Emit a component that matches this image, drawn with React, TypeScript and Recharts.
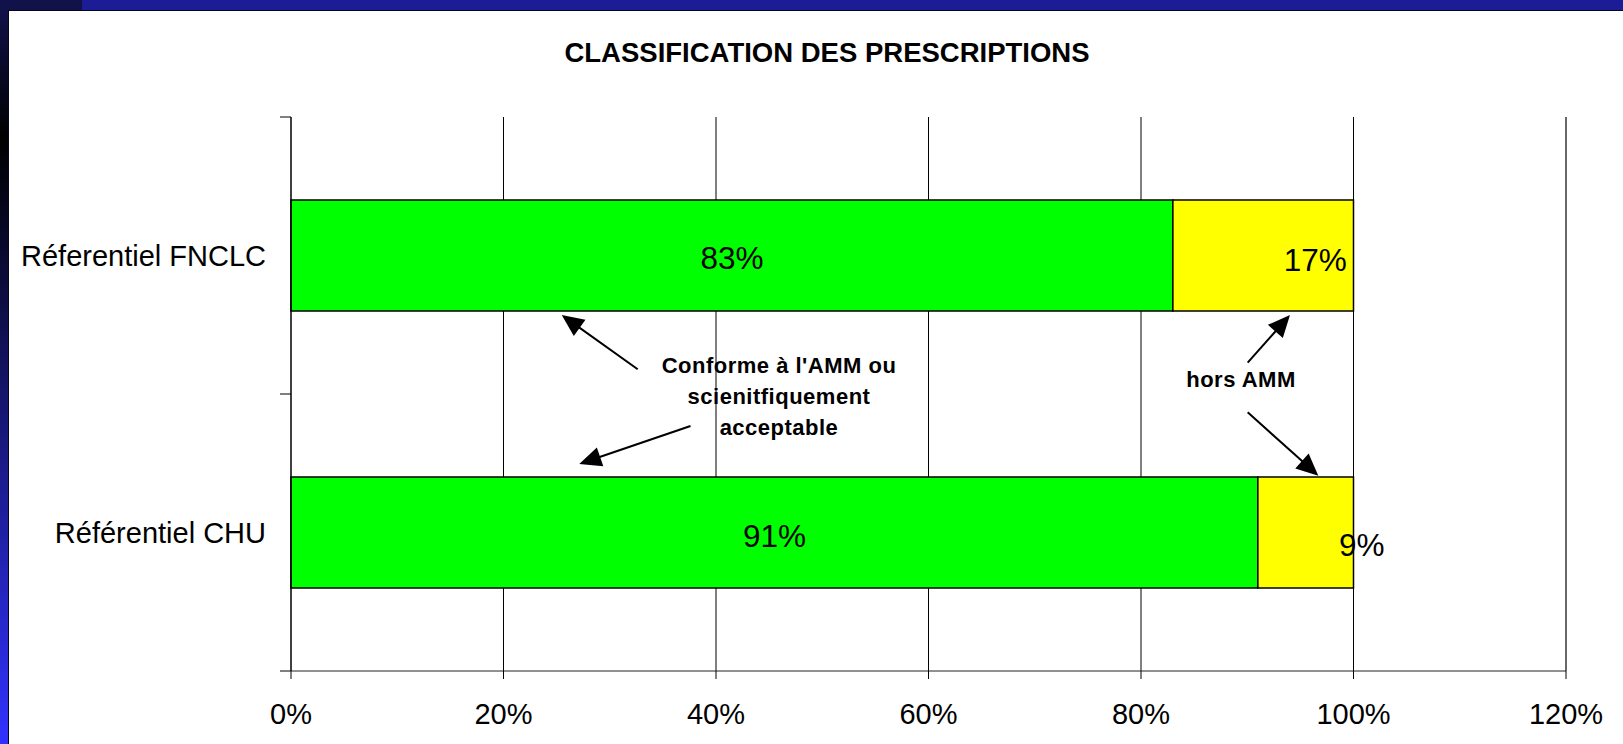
import React from 'react';
import { BarChart, Bar, XAxis, YAxis, CartesianGrid, ReferenceLine, LabelList } from 'recharts';

// ---------- data ----------
const categories = ['Réferentiel FNCLC', 'Référentiel CHU'];
const conformeValues = [83, 91];
const horsAmmValues = [17, 9];
const xTicks = [0, 20, 40, 60, 80, 100, 120];
const chartTitle = 'CLASSIFICATION DES PRESCRIPTIONS';
const conformeNote = ["Conforme à l'AMM ou", 'scienitfiquement', 'acceptable'];
const horsNote = 'hors AMM';

const data = categories.map((name, i) => ({
  name,
  conforme: conformeValues[i],
  hors: horsAmmValues[i],
}));

// ---------- layout ----------
const W = 1623;
const H = 744;
const PLOT_LEFT = 291;
const PLOT_TOP = 117;
const PLOT_BOTTOM = 671;
const PLOT_RIGHT = 1566;
const X_MAX = 120;
const FONT = '"Liberation Sans", Arial, Helvetica, sans-serif';

const xPix = (v: number) => PLOT_LEFT + (v / X_MAX) * (PLOT_RIGHT - PLOT_LEFT);
const BAND = (PLOT_BOTTOM - PLOT_TOP) / categories.length;

// label nudges (styling, per bar)
const greenShift = [{ dx: 0, dy: 3 }, { dx: 0, dy: 4 }];
const yellowShift = [{ dx: 52, dy: 5 }, { dx: 56, dy: 13 }];

const makeLabel = (shifts: { dx: number; dy: number }[]) => (props: any) => {
  const vb = props.viewBox || {};
  const x = props.x ?? vb.x;
  const y = props.y ?? vb.y;
  const width = props.width ?? vb.width;
  const height = props.height ?? vb.height;
  const s = shifts[props.index] || { dx: 0, dy: 0 };
  const fs = 31.5;
  return (
    <text
      x={x + width / 2 + s.dx}
      y={y + height / 2 + s.dy + 10.8}
      textAnchor="middle"
      fontSize={fs}
      fill="#000"
      fontFamily={FONT}
    >
      {props.value}%
    </text>
  );
};

// annotation arrows: x in axis percent, y in pixels
const arrows = [
  { x1: 32.63, y1: 369.3, x2: 25.48, y2: 315 },
  { x1: 37.6, y1: 426, x2: 27.13, y2: 464 },
  { x1: 90.04, y1: 362.7, x2: 94.02, y2: 315 },
  { x1: 90.04, y1: 412.3, x2: 96.69, y2: 475.7 },
];

function Arrow({ x1, y1, x2, y2 }: { x1: number; y1: number; x2: number; y2: number }) {
  const dx = x2 - x1;
  const dy = y2 - y1;
  const len = Math.hypot(dx, dy);
  const ux = dx / len;
  const uy = dy / len;
  const hl = 22;
  const hw = 10;
  const bx = x2 - ux * hl;
  const by = y2 - uy * hl;
  const px = -uy;
  const py = ux;
  const pts = `${x2},${y2} ${bx + px * hw},${by + py * hw} ${bx - px * hw},${by - py * hw}`;
  return (
    <g>
      <line x1={x1} y1={y1} x2={bx + ux * 2} y2={by + uy * 2} stroke="#000" strokeWidth={2} />
      <polygon points={pts} fill="#000" />
    </g>
  );
}

export default function App() {
  return (
    <div
      style={{
        position: 'absolute',
        left: 0,
        top: 0,
        width: W,
        height: H,
        overflow: 'hidden',
        fontFamily: FONT,
        background: 'linear-gradient(to bottom, #12124e 0px, #000000 140px, #3232ff 744px)',
      }}
    >
      {/* top band */}
      <div
        style={{
          position: 'absolute',
          left: 0,
          top: 0,
          width: W,
          height: 10,
          background: 'linear-gradient(to right, #12124a 0px, #12124a 82px, #1c1c96 82px, #1c1c96 100%)',
        }}
      />
      {/* white panel */}
      <div
        style={{
          position: 'absolute',
          left: 8,
          top: 10,
          right: 0,
          bottom: 0,
          background: '#fff',
          borderLeft: '1px solid #050518',
          borderTop: '1px solid #050518',
        }}
      />
      <div style={{ position: 'absolute', left: 0, top: 0 }}>
        <BarChart
          width={W}
          height={H}
          data={data}
          layout="vertical"
          margin={{ top: PLOT_TOP, right: W - PLOT_RIGHT, bottom: 0, left: 0 }}
          barCategoryGap="30%"
          style={{ fontFamily: FONT }}
        >
          <CartesianGrid horizontal={false} vertical={true} stroke="#000" strokeWidth={1} />
          <XAxis
            type="number"
            domain={[0, X_MAX]}
            ticks={xTicks}
            interval={0}
            tickFormatter={(v: number) => `${v}%`}
            height={H - PLOT_BOTTOM}
            tickSize={8}
            tickMargin={24}
            axisLine={{ stroke: '#222', strokeWidth: 1 }}
            tickLine={{ stroke: '#000', strokeWidth: 1 }}
            tick={{ fill: '#000', fontSize: 29, fontFamily: FONT }}
          />
          <YAxis
            type="category"
            dataKey="name"
            width={PLOT_LEFT}
            tickLine={false}
            tickSize={10}
            tickMargin={15}
            axisLine={{ stroke: '#000', strokeWidth: 1 }}
            tick={{ fill: '#000', fontSize: 29, fontFamily: FONT }}
          />
          <ReferenceLine x={X_MAX} stroke="#606060" strokeWidth={1.5} />
          <Bar dataKey="conforme" stackId="a" fill="#00ff00" stroke="#000" strokeWidth={1.5} isAnimationActive={false}>
            <LabelList dataKey="conforme" content={makeLabel(greenShift)} />
          </Bar>
          <Bar dataKey="hors" stackId="a" fill="#ffff00" stroke="#000" strokeWidth={1.5} isAnimationActive={false}>
            <LabelList dataKey="hors" content={makeLabel(yellowShift)} />
          </Bar>
        </BarChart>
      </div>
      {/* overlay: title, axis boundary ticks, annotations */}
      <svg
        width={W}
        height={H}
        style={{ position: 'absolute', left: 0, top: 0, pointerEvents: 'none' }}
      >
        <text x={827} y={62} textAnchor="middle" fontSize={27.5} fontWeight="bold" fill="#000" fontFamily={FONT}>
          {chartTitle}
        </text>
        {[0, 1, 2].map((i) => (
          <line
            key={i}
            x1={PLOT_LEFT - 11}
            x2={PLOT_LEFT}
            y1={PLOT_TOP + i * BAND}
            y2={PLOT_TOP + i * BAND}
            stroke="#000"
            strokeWidth={1}
          />
        ))}
        {arrows.map((a, i) => (
          <Arrow key={i} x1={xPix(a.x1)} y1={a.y1} x2={xPix(a.x2)} y2={a.y2} />
        ))}
        {conformeNote.map((t, i) => (
          <text
            key={i}
            x={779}
            y={373 + i * 31}
            textAnchor="middle"
            fontSize={22}
            fontWeight="bold"
            letterSpacing={0.5}
            fill="#000"
            fontFamily={FONT}
          >
            {t}
          </text>
        ))}
        <text x={1241} y={387} textAnchor="middle" fontSize={22} fontWeight="bold" letterSpacing={0.5} fill="#000" fontFamily={FONT}>
          {horsNote}
        </text>
      </svg>
    </div>
  );
}
